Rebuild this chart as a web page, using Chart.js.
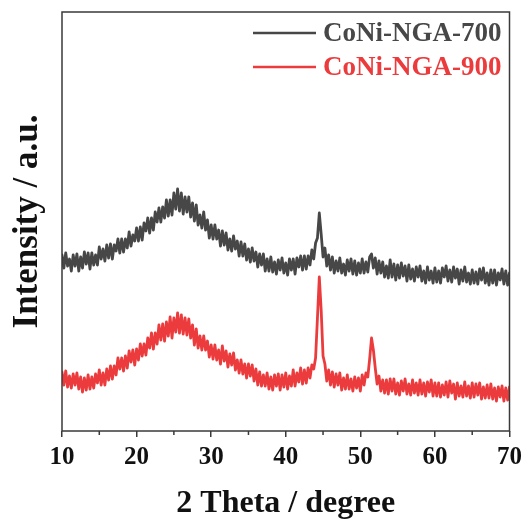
<!DOCTYPE html>
<html>
<head>
<meta charset="utf-8">
<script src="https://cdn.jsdelivr.net/npm/chart.js@4.4.1/dist/chart.umd.min.js"></script>
<style>
  html, body { margin: 0; padding: 0; background: #fff; }
  canvas { display: block; }
</style>
</head>
<body>
<canvas id="xrdChart" width="528" height="523"></canvas>
<script>
// XRD scan: 10-70 deg, one reading every 0.25 deg (241 points per pattern)
const scanStart = 10;
const scanStep = 0.25;

const xTicks = [10, 20, 30, 40, 50, 60, 70];
const xMinorTicks = [15, 25, 35, 45, 55, 65];

const seriesNames = ['CoNi-NGA-700', 'CoNi-NGA-900'];
const seriesColors = ['#474747', '#ec3b3d'];

// intensities (a.u.), noise included
const coni700 = [
  176,163,178,165,172,160,176,165,177,
  160,174,163,179,167,178,162,178,
  166,176,166,184,172,182,170,186,
  173,187,172,186,180,192,178,192,
  179,192,183,199,185,196,190,203,
  190,204,191,208,200,213,198,213,
  201,219,209,223,209,224,213,231,
  215,231,216,238,222,242,
  220,238,
  217,234,219,234,
  214,228,210,226,
  206,216,203,219,201,211,193,206,
  192,206,192,201,185,200,186,198,
  181,192,180,195,182,190,175,189,
  175,187,171,182,169,183,170,179,
  164,177,166,177,160,172,160,174,
  159,169,157,171,161,173,158,168,
  156,172,161,172,157,173,164,175,
  161,175,162,175,166,181,
  172,188,193,218,197,174,183,165,176,161,
  174,158,170,160,173,158,167,156,
  171,160,172,157,170,156,168,158,
  172,158,169,159,
  174,177,163,173,
  157,170,158,169,
  154,165,153,171,154,167,151,166,
  153,168,155,165,150,166,152,162,
  150,164,154,165,150,160,148,164,151,160,148,163,
  149,160,148,163,154,165,150,161,
  149,164,153,162,147,161,150,164,149,158,147,161,
  148,159,147,162,151,163,148,158,146,161,148,161,146,158,151,162,147,160,146,158
];

const coni900 = [
  59,46,60,44,55,43,57,46,58,
  42,54,39,53,
  41,56,42,54,
  43,57,48,61,46,58,46,62,
  51,65,52,65,56,73,62,73,
  60,75,63,80,69,81,66,82,
  71,87,75,87,76,93,83,98,
  82,98,87,106,91,107,90,109,
  95,114,93,113,99,118,98,116,
  97,113,96,112,
  93,106,86,102,
  83,95,81,95,81,90,74,86,
  72,86,71,81,67,85,70,80,
  64,77,66,78,61,71,58,71,
  57,67,53,67,55,66,50,62,
  46,59,45,56,45,58,42,54,
  41,56,45,57,41,56,44,58,
  42,55,45,61,45,58,49,63,
  47,61,48,63,53,66,
  62,73,113,154,121,75,67,50,61,46,
  59,44,57,46,58,41,53,42,
  56,42,52,40,54,43,53,40,
  56,46,58,
  54,72,93,81,63,47,55,40,51,
  38,51,37,52,40,52,37,48,
  36,50,40,52,37,47,36,51,38,48,36,51,
  37,48,35,49,39,51,35,48,
  35,48,34,46,36,49,34,50,38,47,32,48,35,45,34,49,35,45,33,48,
  34,47,36,48,32,44,33,46,33,47,32,43,30,44,34,45,30,43,31,44
];

const FONT = "'Liberation Serif', 'Times New Roman', serif";
const FRAME = '#3a3a3a';

function toPoints(values) {
  return values.map((v, i) => ({ x: scanStart + i * scanStep, y: v }));
}

// box round the plot, minor ticks and the legend in the top right corner
const framePlugin = {
  id: 'frame',
  afterDraw(chart) {
    const { ctx, chartArea: a, scales } = chart;
    ctx.save();
    ctx.strokeStyle = FRAME;
    ctx.lineWidth = 1.5;
    ctx.strokeRect(a.left, a.top, a.right - a.left, a.bottom - a.top);

    ctx.beginPath();
    xMinorTicks.forEach(t => {
      const px = scales.x.getPixelForValue(t);
      ctx.moveTo(px, a.bottom);
      ctx.lineTo(px, a.bottom + 4);
    });
    ctx.stroke();

    ctx.font = 'bold 27px ' + FONT;
    ctx.textBaseline = 'middle';
    chart.data.datasets.forEach((ds, i) => {
      const y = 33 + i * 34;
      ctx.strokeStyle = ds.borderColor;
      ctx.lineWidth = 2.5;
      ctx.beginPath();
      ctx.moveTo(253, y);
      ctx.lineTo(316, y);
      ctx.stroke();
      ctx.fillStyle = ds.borderColor;
      ctx.fillText(ds.label, 323, y + 1);
    });
    ctx.restore();
  }
};

const lineStyle = {
  borderWidth: 2.8,
  borderJoinStyle: 'round',
  borderCapStyle: 'round',
  pointRadius: 0,
  tension: 0
};

new Chart(document.getElementById('xrdChart'), {
  type: 'line',
  data: {
    datasets: [
      { label: seriesNames[0], data: toPoints(coni700), borderColor: seriesColors[0], ...lineStyle },
      { label: seriesNames[1], data: toPoints(coni900), borderColor: seriesColors[1], ...lineStyle }
    ]
  },
  options: {
    responsive: false,
    animation: false,
    devicePixelRatio: 1,
    layout: { padding: { left: 0, right: 18, top: 12, bottom: 0 } },
    plugins: {
      legend: { display: false },
      tooltip: { enabled: false }
    },
    scales: {
      x: {
        type: 'linear',
        min: 10,
        max: 70,
        afterBuildTicks: (scale) => { scale.ticks = xTicks.map(v => ({ value: v })); },
        afterFit: (scale) => { scale.height = 92; },
        border: { display: false },
        grid: {
          display: true,
          drawOnChartArea: false,
          drawTicks: true,
          tickLength: 6,
          color: FRAME,
          lineWidth: 1.5
        },
        ticks: {
          color: '#111',
          padding: 6,
          maxRotation: 0,
          font: { family: FONT, size: 25, weight: 'bold' }
        },
        title: {
          display: true,
          text: '2 Theta / degree',
          color: '#111',
          padding: { top: 0, bottom: 0 },
          font: { family: FONT, size: 32, weight: 'bold' }
        }
      },
      y: {
        min: 0,
        max: 419,
        afterFit: (scale) => { scale.width = 62; },
        border: { display: false },
        grid: { display: false },
        ticks: { display: false },
        title: {
          display: true,
          text: 'Intensity / a.u.',
          color: '#111',
          padding: { top: 7, bottom: 0 },
          font: { family: FONT, size: 35, weight: 'bold' }
        }
      }
    }
  },
  plugins: [framePlugin]
});
</script>
</body>
</html>
